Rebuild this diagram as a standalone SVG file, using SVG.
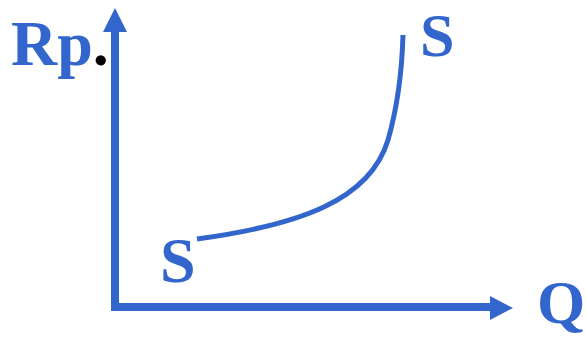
<svg xmlns="http://www.w3.org/2000/svg" width="586" height="337" viewBox="0 0 586 337">
<style>
.lbl{font-family:"Liberation Serif","Times New Roman",serif;font-weight:bold;fill:#3366CC}
.ax{stroke:#3366CC;stroke-width:8;fill:none}
.head{fill:#3366CC}
</style>
<rect width="586" height="337" fill="#ffffff"/>
<g id="connectors">
<line class="ax" x1="115" y1="307" x2="115" y2="30"/>
<polygon class="head" points="115,8 103,32 127,32"/>
<line class="ax" x1="111" y1="307" x2="492" y2="307"/>
<polygon class="head" points="513,308 490,296 490,320"/>
<path d="M197,239 C300,225 370,200 388,140 C398,105 402,70 403,35" fill="none" stroke="#3366CC" stroke-width="5"/>
</g>
<g id="rp-label"><text class="lbl" x="11" y="65" font-size="64">Rp<tspan fill="#000000">.</tspan></text></g>
<g id="s-top"><text class="lbl" x="420" y="55.5" font-size="62">S</text></g>
<g id="s-bottom"><text class="lbl" x="160" y="282" font-size="64">S</text></g>
<g id="q-label"><text class="lbl" x="537" y="323" font-size="62">Q</text></g>
</svg>
